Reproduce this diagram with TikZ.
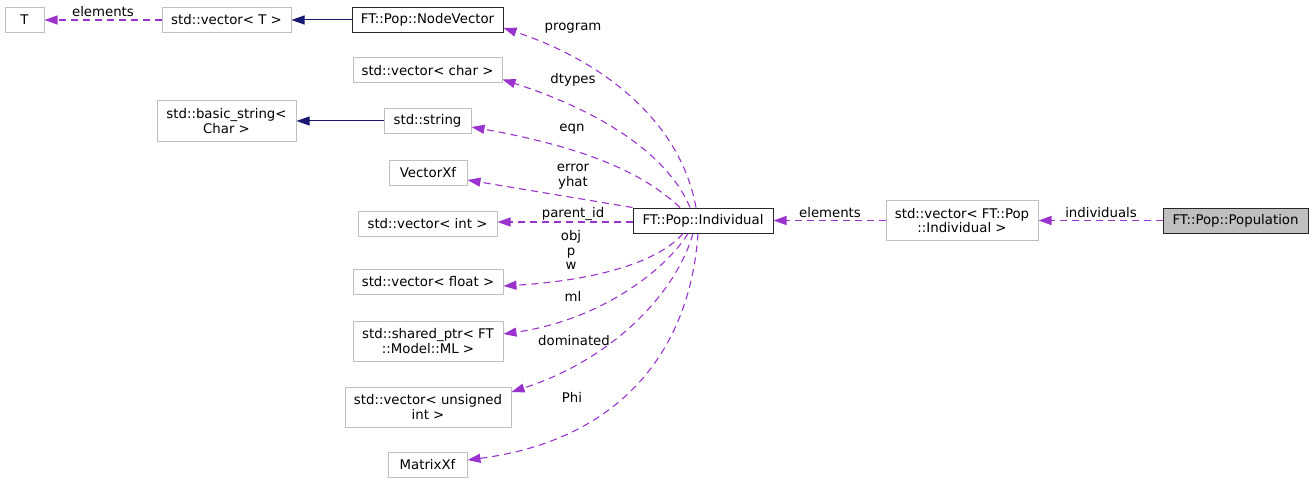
\documentclass[tikz,border=0pt]{standalone}
\usepackage{fontspec}
\setmainfont{DejaVu Sans}
\usetikzlibrary{arrows.meta,positioning,calc}
\definecolor{depviolet}{HTML}{9A32CD}
\definecolor{inhblue}{HTML}{191970}
\definecolor{undocgray}{HTML}{BFBFBF}
\newcommand\diafont{\fontsize{13.3}{14.8}\selectfont}
\tikzset{
  cls/.style  ={rectangle, draw=undocgray, line width=1pt, fill=white,
                minimum height=25pt, inner sep=2pt, align=center, font=\diafont},
  dcls/.style ={cls, draw=black!85},
  cur/.style  ={cls, draw=black!85, fill=undocgray},
  use/.style  ={-{Triangle[length=13pt,width=9pt]}, draw=depviolet,
                line width=1.1pt, dash pattern=on 7pt off 5pt},
  inh/.style  ={-{Triangle[length=13pt,width=9pt]}, draw=inhblue, line width=1pt},
  lbl/.style  ={inner sep=0pt, align=center, font=\diafont}
}

\begin{document}
\begin{tikzpicture}[x=1pt,y=-1pt]
\useasboundingbox (0,0) rectangle (1313,484);
% left column
\node[cls, minimum width=39pt] (t) at (24.5,20) {T};
\node[cls, minimum width=129pt] (vt) at (226.5,20) {std::vector< T >};
\node[cls, minimum width=139pt, minimum height=40pt] (bstr) at (226.5,121)
  {std::basic\_string<\\Char >};
% members of the individual
\node[dcls, minimum width=151pt] (nv) at (427.5,20) {FT::Pop::NodeVector};
\node[cls, minimum width=149pt] (vchar) at (427.5,70.5) {std::vector< char >};
\node[cls, minimum width=87pt] (str) at (427.5,121) {std::string};
\node[cls, minimum width=78pt] (vxf) at (428,173) {VectorXf};
\node[cls, minimum width=139pt] (vint) at (427.5,224) {std::vector< int >};
\node[cls, minimum width=150pt] (vfloat) at (428,282) {std::vector< float >};
\node[cls, minimum width=150pt, minimum height=40pt] (sptr) at (428,341)
  {std::shared\_ptr< FT\\::Model::ML >};
\node[cls, minimum width=166pt, minimum height=40pt] (vuint) at (428,407)
  {std::vector< unsigned\\int >};
\node[cls, minimum width=79pt] (mxf) at (427.5,465) {MatrixXf};
% right part
\node[dcls, minimum width=140pt] (ind) at (703,220.5) {FT::Pop::Individual};
\node[cls, minimum width=152pt, minimum height=40pt] (vind) at (962,220.5)
  {std::vector< FT::Pop\\::Individual >};
\node[cur, minimum width=145pt] (pop) at (1235.5,220.5) {FT::Pop::Population};

% inheritance
\draw[inh] (nv.west) -- (vt.east);
\draw[inh] (str.west) -- (bstr.east);

% usage
\draw[use] (vt.west) -- (t.east);
\node[lbl] (l-el1) at (103,12) {elements};
\draw[use] ($(ind.north)+(-7,0)$) .. controls +(-16,-88) and +(97,32) .. ($(nv.east)+(0,8)$);
\node[lbl] (l-prog) at (573,28) {program};
\draw[use] ($(ind.north)+(-13,0)$) .. controls +(-20,-48) and +(108,35) .. ($(vchar.east)+(0,9)$);
\node[lbl] (l-dt) at (573,80) {dtypes};
\draw[use] ($(ind.north)+(-23,0)$) .. controls +(-30,-28) and +(129,23) .. ($(str.east)+(0,6)$);
\node[lbl] (l-eqn) at (572,129) {eqn};
\draw[use] (ind.north west) -- ($(vxf.east)+(0,7)$);
\node[lbl] (l-err) at (573,177) {error\\yhat};
\draw[use] (ind.west |- 0,222) -- (vint.east |- 0,222);
\node[lbl] (l-pid) at (573,214) {parent\_id};
\draw[use] ($(ind.south)+(-20,0)$) .. controls +(-23,27) and +(97,-6) .. ($(vfloat.east)+(0,4)$);
\node[lbl] (l-obj) at (571,250) {obj\\p\\w};
\draw[use] ($(ind.south)+(-15,0)$) .. controls +(-23,37) and +(97,-14) .. ($(sptr.east)+(0,-7)$);
\node[lbl] (l-ml) at (573,296) {ml};
\draw[use] ($(ind.south)+(-10,0)$) .. controls +(-18,62) and +(99,-32) .. ($(vuint.east)+(0,-15)$);
\node[lbl] (l-dom) at (574,341) {dominated};
\draw[use] ($(ind.south)+(-5,0)$) .. controls +(-8,117) and +(153,-20) .. ($(mxf.east)+(0,-5)$);
\node[lbl] (l-phi) at (572,397) {Phi};
\draw[use] (vind.west) -- (ind.east);
\node[lbl] (l-el2) at (830,213) {elements};
\draw[use] (pop.west) -- (vind.east);
\node[lbl] (l-ind) at (1101,213) {individuals};
\end{tikzpicture}
\end{document}
